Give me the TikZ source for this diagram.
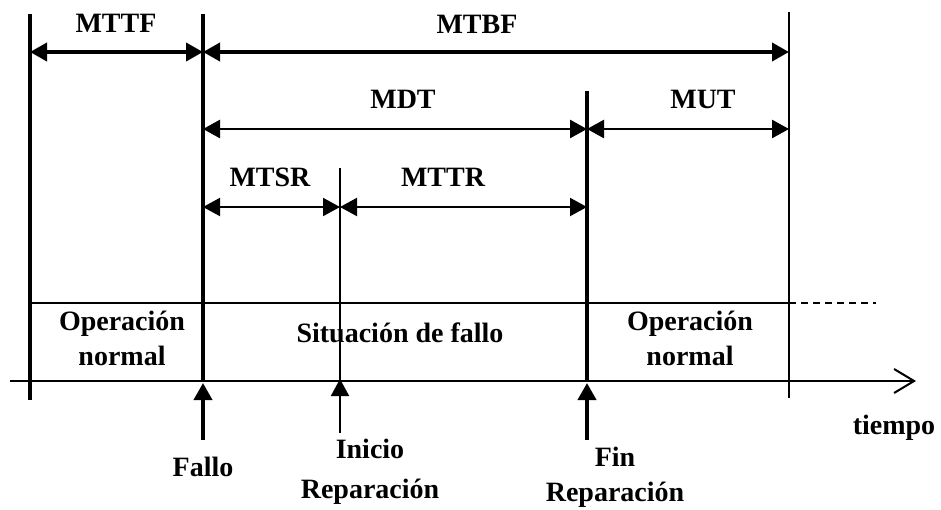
\documentclass[tikz,border=0pt]{standalone}
\usepackage{fontspec}
\setmainfont{Liberation Serif}
\usetikzlibrary{arrows.meta}
\begin{document}
\begin{tikzpicture}[x=1pt,y=-1pt,
  lbl/.style={font=\fontsize{28}{35}\selectfont\bfseries, inner sep=0pt, align=center},
  thickln/.style={line width=3.8pt},
  medln/.style={line width=2.6pt},
  thinln/.style={line width=2pt},
  dimarr/.style={{Triangle[length=17pt,width=18pt]}-{Triangle[length=17pt,width=18pt]}},
  uparr/.style={-{Triangle[length=17pt,width=18pt]}},
]
\useasboundingbox (0,0) rectangle (941,509);
% vertical line coordinates
\coordinate (Ltop) at (30,14);   \coordinate (Lbot) at (30,400);
\coordinate (Ftop) at (203,14);  \coordinate (Fax) at (203,381);
\coordinate (Itop) at (340,168); \coordinate (Iax) at (340,381);
\coordinate (Ntop) at (587,91);  \coordinate (Nax) at (587,381);
\coordinate (Rtop) at (789,12);  \coordinate (Rbot) at (789,398);
% dimension coordinates
\coordinate (a1) at (30,52);  \coordinate (a2) at (203,52); \coordinate (a3) at (789,52);
\coordinate (b1) at (203,129); \coordinate (b2) at (587,129); \coordinate (b3) at (789,129);
\coordinate (c1) at (203,207); \coordinate (c2) at (340,207); \coordinate (c3) at (587,207);
% band and axis
\coordinate (bandL) at (30,303); \coordinate (bandR) at (789,303); \coordinate (bandE) at (876,303);
\coordinate (axL) at (10,381); \coordinate (axR) at (916,381);
% event arrows
\coordinate (Fs) at (203,440); \coordinate (Ft) at (203,383);
\coordinate (Is) at (340,433); \coordinate (It) at (340,379);
\coordinate (Ns) at (587,440); \coordinate (Nt) at (587,383);

% verticals
\draw[thickln] (Ltop) -- (Lbot);
\draw[thickln] (Ftop) -- (Fax);
\draw[thinln] (Itop) -- (Iax);
\draw[thickln] (Ntop) -- (Nax);
\draw[thinln] (Rtop) -- (Rbot);

% band and axis
\draw[line width=2.2pt] (bandL) -- (bandR);
\draw[line width=2.2pt, dash pattern=on 7pt off 5pt] (bandR) -- (bandE);
\draw[line width=2.2pt, -{Straight Barb[length=20pt,width=24pt,line width=2pt]}] (axL) -- (axR);

% dimension arrows
\draw[thickln, dimarr] (a1) -- (a2);
\draw[thickln, dimarr] (a2) -- (a3);
\draw[medln, dimarr] (b1) -- (b2);
\draw[medln, dimarr] (b2) -- (b3);
\draw[thinln, dimarr] (c1) -- (c2);
\draw[thinln, dimarr] (c2) -- (c3);

% event arrows
\draw[thickln, uparr] (Fs) -- (Ft);
\draw[thinln, uparr] (Is) -- (It);
\draw[thickln, uparr] (Ns) -- (Nt);

% labels
\node[lbl] (mttf) at (116,23) {MTTF};
\node[lbl] (mtbf) at (477,24) {MTBF};
\node[lbl] (mdt) at (403,99) {MDT};
\node[lbl] (mut) at (703,99) {MUT};
\node[lbl] (mtsr) at (270,177) {MTSR};
\node[lbl] (mttr) at (443,177) {MTTR};
\node[lbl] (op1) at (122,338) {Operación\\normal};
\node[lbl] (sit) at (400,333) {Situación de fallo};
\node[lbl] (op2) at (690,338) {Operación\\normal};
\node[lbl] (fallo) at (203,467) {Fallo};
\node[lbl] (inicio) at (370,472) {Inicio\\[5pt]Reparación};
\node[lbl] (fin) at (615,477) {Fin\\Reparación};
\node[lbl] (tiempo) at (894,428) {tiempo};
\end{tikzpicture}
\end{document}
